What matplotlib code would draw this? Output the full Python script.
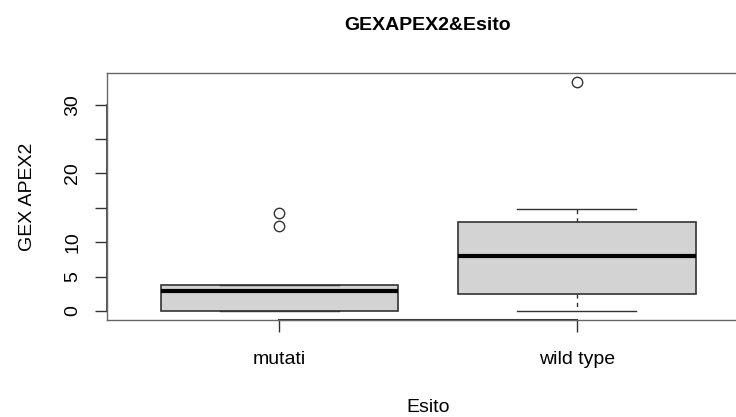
import matplotlib
matplotlib.use('Agg')
import matplotlib.pyplot as plt

# Riepilogo dei boxplot
gruppi = ['mutati', 'wild type']
minimi = [0.0, 0.0]
q1 = [0.0, 2.4]
mediane = [2.9, 8.0]
q3 = [3.75, 12.9]
massimi = [3.75, 14.8]
outlier = [[12.35, 14.3], [33.3]]

plt.rcParams['font.family'] = ['Liberation Sans', 'DejaVu Sans']

fig = plt.figure(figsize=(7.36, 4.17), dpi=100)
ax = fig.add_axes([107 / 736, 97 / 417, 642 / 736, 247 / 417])

stats = []
for i, nome in enumerate(gruppi):
    stats.append({
        'label': nome, 'whislo': minimi[i], 'q1': q1[i], 'med': mediane[i],
        'q3': q3[i], 'whishi': massimi[i], 'fliers': outlier[i],
    })

ax.bxp(stats, positions=[1, 2], widths=0.8, patch_artist=True,
       boxprops=dict(facecolor='#d3d3d3', edgecolor='#333333', linewidth=1.2),
       medianprops=dict(color='black', linewidth=3),
       whiskerprops=dict(color='#333333', linewidth=1, linestyle=(0, (3, 3))),
       capprops=dict(color='#333333', linewidth=1),
       capwidths=0.4,
       flierprops=dict(marker='o', markerfacecolor='none', markeredgecolor='#333333',
                       markersize=7.5, markeredgewidth=1))

ax.set_xlim(0.42, 2.58)
ax.set_ylim(-1.33, 34.63)

for s in ax.spines.values():
    s.set_color('#666666')
    s.set_linewidth(1)

ax.set_yticks([0, 5, 10, 15, 20, 25, 30])
ax.set_yticklabels(['0', '5', '10', '', '20', '', '30'], rotation=90, va='center')
ax.set_xticks([1, 2])
ax.set_xticklabels(gruppi)
ax.tick_params(axis='both', length=8.6, width=1, color='#333333', labelsize=14)
ax.tick_params(axis='y', pad=10)
ax.tick_params(axis='x', pad=14)

# linee degli assi come in R
ax.plot([1, 2], [-1.33, -1.33], color='#333333', lw=1.5, clip_on=False)
ax.plot([0.42, 0.42], [0, 30], color='#333333', lw=1.2, clip_on=False)

ax.set_xlabel('Esito', fontsize=14, labelpad=22)
ax.set_ylabel('GEX APEX2', fontsize=14, labelpad=20)
fig.text(428 / 736, 1 - 25 / 417, 'GEXAPEX2&Esito', ha='center', va='center',
         fontsize=14, fontweight='bold')

fig.savefig('out.png', dpi=100)
